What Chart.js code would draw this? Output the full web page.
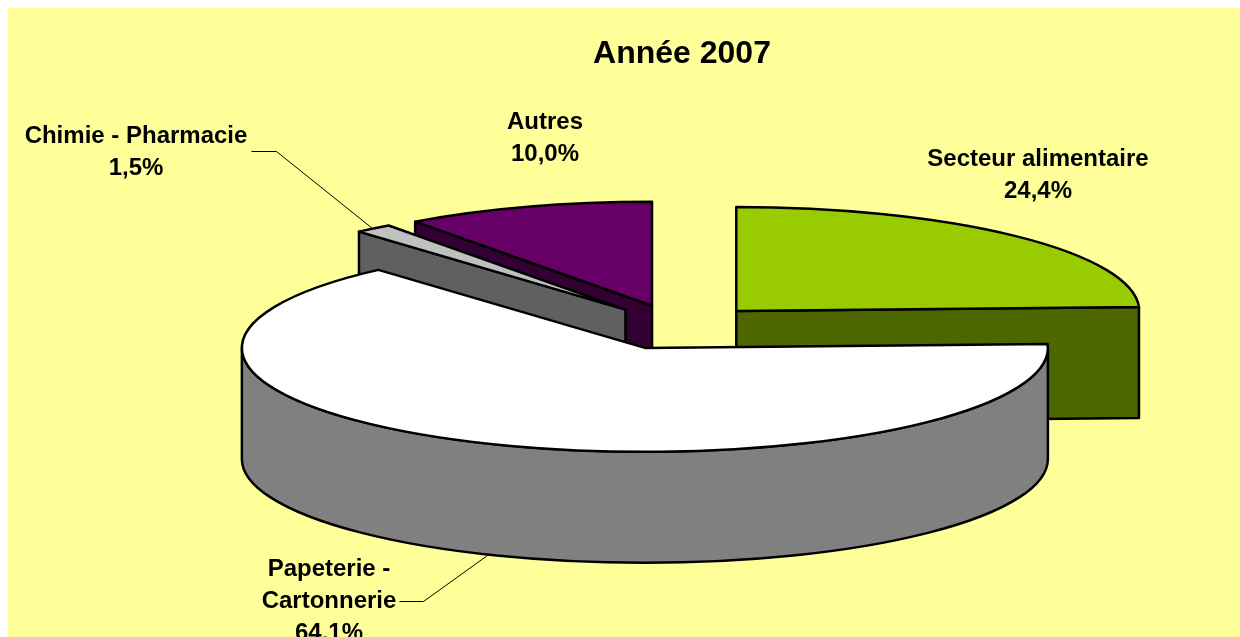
<!DOCTYPE html>
<html lang="fr">
<head>
<meta charset="utf-8">
<title>Année 2007</title>
<script src="https://cdn.jsdelivr.net/npm/chart.js@4"></script>
<style>
  html, body { margin: 0; padding: 0; background: #fff; overflow: hidden; }
  canvas { display: block; }
</style>
</head>
<body>
<canvas id="pieChart" width="1240" height="637"></canvas>
<script>
// ---------- Data ----------
const titleText = "Année 2007";
const categories = ["Secteur alimentaire", "Papeterie - Cartonnerie", "Chimie - Pharmacie", "Autres"];
const shares = [24.4, 64.1, 1.5, 10.0];
const topColors = ["#99CC00", "#FFFFFF", "#C0C0C0", "#660066"];
const sideColors = ["#4D6600", "#808080", "#606060", "#330033"];

// ---------- 3D look ----------
const squash = 0.258;     // flattening of the pie
const explodeSquash = 0.268; // same for the pull-out, a bit less flat in the original
const depth = 111;        // height of the walls, px
const explode = 84;       // every slice is pulled out by this, px
const radius = 403;
const paintOrder = [3, 2, 0, 1]; // back to front

// label text blocks: centre x, centre y of the first line
const labelBoxes = [
  { x: 1038, y: 159, lines: ["Secteur alimentaire"] },
  { x: 329, y: 569, lines: ["Papeterie -", "Cartonnerie"] },
  { x: 136, y: 136, lines: ["Chimie - Pharmacie"] },
  { x: 545, y: 122, lines: ["Autres"] },
];
const leaders = [
  [[251, 151], [276, 151], [372, 228]],
  [[399, 601], [423, 601], [487, 555]],
];

function sliceGeometry(el) {
  const mid = (el.startAngle + el.endAngle) / 2;
  return {
    cx: el.x + Math.cos(mid) * explode,
    cy: el.y + Math.sin(mid) * explode * explodeSquash,
    r: el.outerRadius,
    a: el.startAngle,
    b: el.endAngle,
    mid,
  };
}

function paintPath(ctx, fill) {
  ctx.fillStyle = fill;
  ctx.fill();
  ctx.strokeStyle = "#000";
  ctx.lineWidth = 2.5;
  ctx.lineJoin = "round";
  ctx.stroke();
}

function drawWalls(ctx, el, color) {
  const g = sliceGeometry(el);
  const ry = g.r * squash;

  // flat cut faces, only the ones turned to the viewer
  const face = (t) => {
    const px = g.cx + Math.cos(t) * g.r;
    const py = g.cy + Math.sin(t) * ry;
    ctx.beginPath();
    ctx.moveTo(g.cx, g.cy);
    ctx.lineTo(px, py);
    ctx.lineTo(px, py + depth);
    ctx.lineTo(g.cx, g.cy + depth);
    ctx.closePath();
    paintPath(ctx, color);
  };
  if (Math.cos(g.a) < -0.01) face(g.a);
  if (Math.cos(g.b) > 0.01) face(g.b);

  // round outer wall, front half only
  const t0 = Math.max(g.a, 0);
  const t1 = Math.min(g.b, Math.PI);
  if (t1 > t0) {
    ctx.beginPath();
    ctx.ellipse(g.cx, g.cy, g.r, ry, 0, t0, t1);
    ctx.ellipse(g.cx, g.cy + depth, g.r, ry, 0, t1, t0, true);
    ctx.closePath();
    paintPath(ctx, color);
  }
}

function drawTop(ctx, el) {
  const g = sliceGeometry(el);
  // the library paints the slice itself, we only flatten and move it
  ctx.save();
  ctx.translate(g.cx, g.cy);
  ctx.scale(1, squash);
  ctx.translate(-el.x, -el.y);
  el.draw(ctx);
  ctx.restore();

  ctx.beginPath();
  ctx.moveTo(g.cx, g.cy);
  ctx.ellipse(g.cx, g.cy, g.r, g.r * squash, 0, g.a, g.b);
  ctx.closePath();
  ctx.strokeStyle = "#000";
  ctx.lineWidth = 2.5;
  ctx.lineJoin = "round";
  ctx.stroke();
}

const pie3d = {
  id: "pie3d",
  beforeDraw(chart) {
    const ctx = chart.ctx;
    ctx.save();
    ctx.fillStyle = "#FFFF99";
    ctx.fillRect(8, 8, chart.width - 8, chart.height - 8);
    ctx.restore();
  },
  afterLayout(chart) {
    // title sits a little right of the pie centre
    if (chart.titleBlock) chart.titleBlock.left += 8;
  },
  beforeDatasetDraw(chart) {
    const ctx = chart.ctx;
    const arcs = chart.getDatasetMeta(0).data;
    ctx.save();
    paintOrder.forEach((i) => drawWalls(ctx, arcs[i], sideColors[i]));
    paintOrder.forEach((i) => drawTop(ctx, arcs[i]));
    ctx.restore();
    return false;
  },
  afterDraw(chart) {
    const ctx = chart.ctx;
    ctx.save();
    ctx.strokeStyle = "#000";
    ctx.lineWidth = 1;
    leaders.forEach((pts) => {
      ctx.beginPath();
      pts.forEach((p, i) => (i ? ctx.lineTo(p[0] + 0.5, p[1] + 0.5) : ctx.moveTo(p[0] + 0.5, p[1] + 0.5)));
      ctx.stroke();
    });
    ctx.fillStyle = "#000";
    ctx.font = 'bold 24px "Liberation Sans", Arial, sans-serif';
    ctx.textAlign = "center";
    ctx.textBaseline = "middle";
    labelBoxes.forEach((box, i) => {
      const pct = shares[i].toFixed(1).replace(".", ",") + "%";
      [...box.lines, pct].forEach((line, n) => ctx.fillText(line, box.x, box.y + n * 32));
    });
    ctx.restore();
  },
};

// ---------- Chart ----------
new Chart(document.getElementById("pieChart"), {
  type: "pie",
  data: {
    labels: categories,
    datasets: [
      {
        data: shares,
        backgroundColor: topColors,
        borderWidth: 0,
        radius: radius,
        clip: false,
      },
    ],
  },
  options: {
    responsive: false,
    animation: false,
    layout: { padding: { left: 116, right: 0, top: 0, bottom: 56 } },
    plugins: {
      legend: { display: false },
      tooltip: { enabled: false },
      title: {
        display: true,
        text: titleText,
        color: "#000",
        font: { family: '"Liberation Sans", Arial, sans-serif', size: 32, weight: "bold" },
        padding: { top: 35, bottom: 0 },
      },
    },
  },
  plugins: [pie3d],
});
</script>
</body>
</html>
